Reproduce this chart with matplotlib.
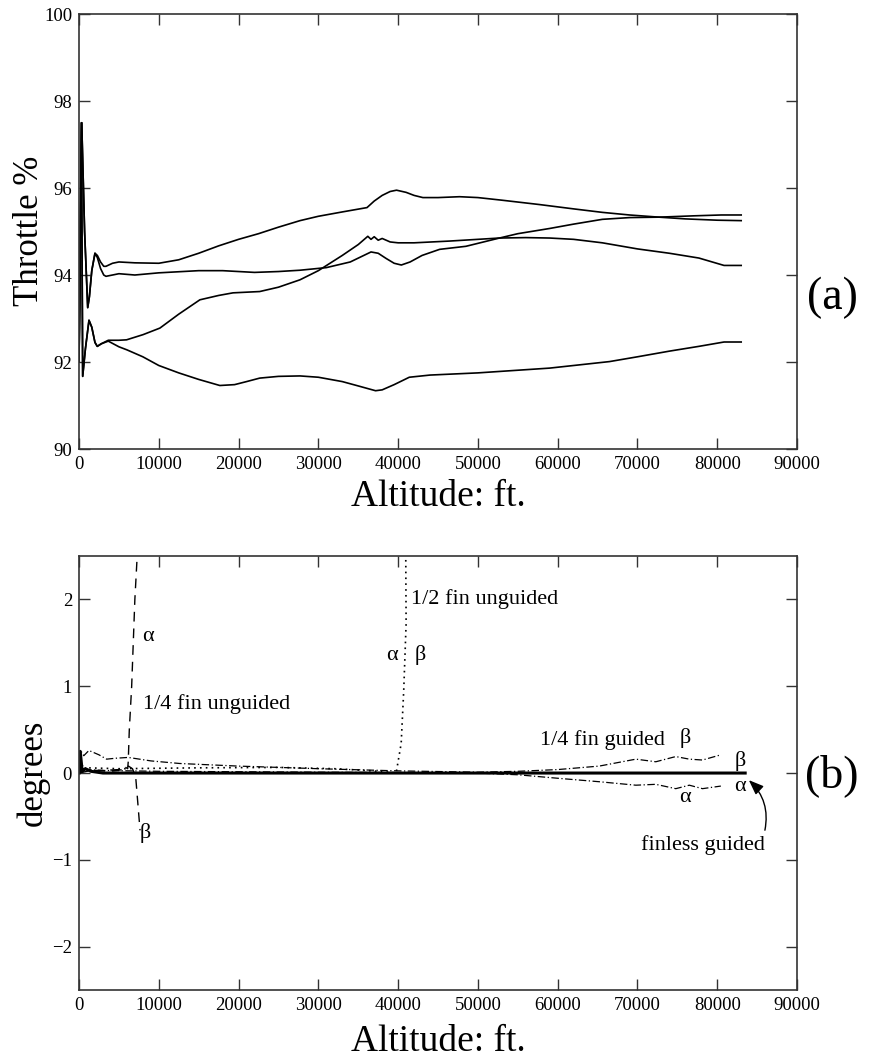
import numpy as np
import matplotlib
matplotlib.use('Agg')
import matplotlib.pyplot as plt

plt.rcParams['font.family'] = ['Liberation Serif', 'DejaVu Serif']
plt.rcParams['mathtext.fontset'] = 'stix'

# ---- (a) throttle vs altitude ----
alt_a = [0, 340, 700, 1090, 1300, 1600, 2000, 2300, 2700, 3100, 3380, 4200, 5000, 7000,
         10000, 12500, 15000, 17500, 20000, 22500, 25000, 27700, 30000, 33000, 36100,
         37000, 38000, 39000, 39800, 41000, 42000, 43100, 45000, 47700, 50000, 53000,
         57700, 62000, 65600, 69000, 72700, 76000, 80000, 83000]
thr_a = [92.0, 97.5, 95.0, 93.25, 93.5, 94.1, 94.5, 94.45, 94.3, 94.2, 94.2, 94.27, 94.3, 94.28,
         94.27, 94.35, 94.5, 94.67, 94.82, 94.95, 95.1, 95.25, 95.35, 95.45, 95.55,
         95.7, 95.83, 95.92, 95.95, 95.9, 95.83, 95.78, 95.78, 95.8, 95.78, 95.72,
         95.62, 95.52, 95.44, 95.38, 95.33, 95.29, 95.26, 95.25]

alt_c = [0, 340, 700, 1090, 1300, 1600, 2000, 2300, 2700, 3100, 3380, 4200, 5000, 7000,
         10000, 15000, 18000, 22000, 25000, 27700, 31000, 34000, 36600, 37500, 38500,
         39500, 40400, 41500, 43000, 45200, 48500, 52700, 55000, 59000, 62000, 65600,
         69000, 72700, 77000, 80500, 83000]
thr_c = [92.0, 97.5, 95.0, 93.25, 93.5, 94.1, 94.5, 94.4, 94.15, 94.0, 93.97, 94.0, 94.03, 94.0,
         94.05, 94.1, 94.1, 94.06, 94.08, 94.11, 94.17, 94.3, 94.53, 94.5, 94.38,
         94.27, 94.23, 94.3, 94.45, 94.59, 94.66, 94.85, 94.95, 95.07, 95.17, 95.28,
         95.32, 95.33, 95.36, 95.38, 95.38]

alt_d = [0, 300, 460, 800, 1250, 1600, 2000, 2290, 2800, 3670, 5000, 5960, 8040, 10140,
         12500, 15150, 17500, 19300, 22650, 25000, 27700, 30000, 33000, 35000, 36200,
         36600, 37000, 37500, 38000, 39000, 40000, 42000, 46400, 52700, 56000, 59000,
         62000, 65600, 70000, 74000, 77700, 80850, 83000]
thr_d = [92.0, 97.5, 91.67, 92.3, 92.96, 92.8, 92.45, 92.36, 92.42, 92.5, 92.5, 92.51, 92.63, 92.78,
         93.1, 93.43, 93.53, 93.59, 93.62, 93.72, 93.89, 94.1, 94.45, 94.7, 94.89,
         94.82, 94.88, 94.8, 94.84, 94.76, 94.74, 94.74, 94.78, 94.85, 94.86, 94.85,
         94.82, 94.74, 94.6, 94.5, 94.39, 94.22, 94.22]

alt_e = [0, 300, 460, 800, 1250, 1600, 2000, 2290, 2800, 3670, 5000, 6000, 8000, 10000,
         12500, 15000, 17650, 19500, 21000, 22650, 25000, 27700, 30000, 33000, 35000,
         37170, 38000, 39500, 41400, 44000, 50000, 59000, 66500, 70000, 74000, 77700,
         80850, 83000]
thr_e = [92.0, 97.5, 91.67, 92.3, 92.96, 92.8, 92.45, 92.36, 92.42, 92.48, 92.35, 92.28, 92.12, 91.92,
         91.75, 91.6, 91.46, 91.48, 91.55, 91.63, 91.67, 91.68, 91.65, 91.55, 91.45,
         91.34, 91.36, 91.48, 91.65, 91.7, 91.75, 91.86, 92.01, 92.12, 92.25, 92.36,
         92.46, 92.46]

# ---- (b) angles vs altitude ----
alt_finless = [0, 150, 400, 800, 1500, 3000, 83500]
deg_finless = [0.0, 0.25, 0.02, 0.05, 0.02, 0.0, 0.0]

alt_g_beta = [0, 200, 600, 1240, 2500, 3460, 4500, 6170, 9000, 12640, 20000, 30000, 40000,
              50000, 55000, 60000, 65200, 67500, 69800, 72300, 74800, 76500, 78150, 80450]
deg_g_beta = [0.0, 0.26, 0.2, 0.26, 0.21, 0.16, 0.17, 0.18, 0.14, 0.11, 0.08, 0.05, 0.025,
              0.01, 0.02, 0.04, 0.08, 0.12, 0.16, 0.13, 0.19, 0.16, 0.15, 0.21]

alt_g_alpha = [0, 300, 1000, 3000, 10000, 30000, 50000, 55000, 60000, 65200, 69800, 72300,
               74800, 76500, 78150, 80450]
deg_g_alpha = [0.0, 0.1, 0.04, 0.03, 0.02, 0.01, 0.0, -0.02, -0.06, -0.10, -0.14, -0.13,
               -0.18, -0.14, -0.18, -0.15]

alt_q_alpha = [0, 500, 1500, 3000, 5000, 5600, 6100, 6170, 6300, 6600, 7000, 7350]
deg_q_alpha = [0.0, 0.05, 0.03, 0.03, 0.04, 0.08, 0.05, 0.13, 0.49, 1.0, 2.0, 2.6]

alt_q_beta = [0, 1500, 4000, 5500, 6200, 6700, 7100, 7650]
deg_q_beta = [0.0, 0.03, 0.02, 0.04, 0.08, 0.05, -0.04, -0.66]

alt_half = [0, 1000, 5000, 15000, 25000, 32000, 36000, 39000, 39750, 40380, 40700, 41000, 40950]
deg_half = [0.0, 0.06, 0.05, 0.06, 0.065, 0.05, 0.03, 0.01, 0.0, 0.34, 0.95, 1.72, 2.6]

fig = plt.figure(figsize=(8.75, 10.61), dpi=100)
ax1 = fig.add_axes([0.0903, 0.5768, 0.8206, 0.41])
ax2 = fig.add_axes([0.0903, 0.0669, 0.8206, 0.409])

for xs, ys in [(alt_a, thr_a), (alt_c, thr_c), (alt_d, thr_d), (alt_e, thr_e)]:
    ax1.plot(xs, ys, color='black', lw=1.2)
ax1.set_xlim(0, 90000)
ax1.set_ylim(90, 100)
ax1.set_yticks(np.arange(90, 101, 2))

ax2.plot(alt_finless, deg_finless, color='black', lw=2.2)
ax2.plot(alt_g_beta, deg_g_beta, color='black', lw=0.9, ls=(0, (6, 2, 1, 2)))
ax2.plot(alt_g_alpha, deg_g_alpha, color='black', lw=0.9, ls=(0, (6, 2, 1, 2)))
ax2.plot(alt_q_alpha, deg_q_alpha, color='black', lw=1.0, ls=(0, (7, 5)))
ax2.plot(alt_q_beta, deg_q_beta, color='black', lw=1.0, ls=(0, (7, 5)))
ax2.plot(alt_half, deg_half, color='black', lw=1.2, ls=(0, (1, 2.5)))
ax2.set_xlim(0, 90000)
ax2.set_ylim(-2.5, 2.5)
ax2.set_yticks([-2, -1, 0, 1, 2])

for ax in (ax1, ax2):
    ax.set_xticks(np.arange(0, 90001, 10000))
    ax.tick_params(direction='in', top=True, right=True, length=8, width=1,
                   labelsize=13.5, pad=5, color='#333333')
    for s in ax.spines.values():
        s.set_color('#333333')
        s.set_linewidth(1.2)

fs = 16
ax2.text(8590, 1.57, 'α', fontsize=fs, ha='center', va='center')
ax2.text(7980, 0.80, '1/4 fin unguided', fontsize=fs, ha='left', va='center')
ax2.text(8270, -0.69, 'β', fontsize=fs, ha='center', va='center')
ax2.text(41570, 2.01, '1/2 fin unguided', fontsize=fs, ha='left', va='center')
ax2.text(39200, 1.36, 'α', fontsize=fs, ha='center', va='center')
ax2.text(42750, 1.36, 'β', fontsize=fs, ha='center', va='center')
ax2.text(57780, 0.38, '1/4 fin guided', fontsize=fs, ha='left', va='center')
ax2.text(75960, 0.40, 'β', fontsize=fs, ha='center', va='center')
ax2.text(82850, 0.14, 'β', fontsize=fs, ha='center', va='center')
ax2.text(82850, -0.16, 'α', fontsize=fs, ha='center', va='center')
ax2.text(75960, -0.28, 'α', fontsize=fs, ha='center', va='center')
ax2.text(78200, -0.83, 'finless guided', fontsize=fs, ha='center', va='center')
ax2.annotate('', xy=(83700, -0.06), xytext=(85900, -0.69),
             arrowprops=dict(arrowstyle='-|>,head_length=0.9,head_width=0.35',
                             color='black', lw=1.0, connectionstyle='arc3,rad=0.3'))

fig.text(30 / 875, 1 - 231 / 1061, 'Throttle %', fontsize=25, rotation=90,
         ha='center', va='center')
fig.text(438 / 875, 1 - 497 / 1061, 'Altitude: ft.', fontsize=27, ha='center', va='center')
fig.text(33 / 875, 1 - 773 / 1061, 'degrees', fontsize=25, rotation=90,
         ha='center', va='center')
fig.text(438 / 875, 1 - 1042 / 1061, 'Altitude: ft.', fontsize=27, ha='center', va='center')
fig.text(832 / 875, 1 - 298 / 1061, '(a)', fontsize=33, ha='center', va='center')
fig.text(832 / 875, 1 - 776 / 1061, '(b)', fontsize=33, ha='center', va='center')

fig.savefig('out.png', dpi=100)
